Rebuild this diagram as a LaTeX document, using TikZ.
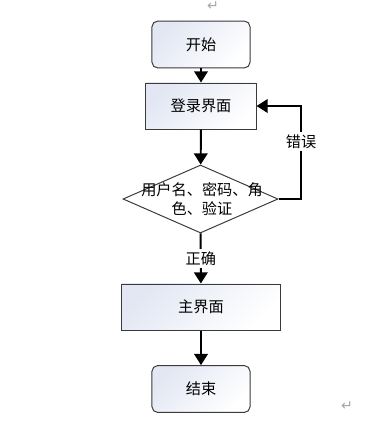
\documentclass[tikz,border=0pt]{standalone}
\usepackage{fontspec}
\setmainfont{Noto Sans CJK SC}
\newfontfamily\marksym{DejaVu Sans}
\usetikzlibrary{arrows.meta,shapes.geometric}

\definecolor{boxshade}{HTML}{E2E7F3}
\definecolor{boxline}{HTML}{3A3A3A}

\tikzset{
    shaded/.style={draw=boxline, line width=0.7pt, top color=boxshade, bottom color=white, shading angle=45},
    terminal/.style={shaded, rounded corners=4pt, minimum width=2.45cm, minimum height=1.17cm},
    process/.style={shaded, minimum width=2.75cm, minimum height=1.15cm},
    decision/.style={diamond, draw=boxline, line width=0.7pt, fill=white, minimum width=3.875cm, minimum height=1.7cm, inner sep=0pt},
    flow/.style={line width=1.4pt, -{Triangle[width=0.34cm,length=0.28cm]}},
    retmark/.style={font=\marksym, text=gray!70}
}

\begin{document}
\begin{tikzpicture}[x=0.025cm, y=-0.025cm, font=\fontsize{10.8}{14}\selectfont]

% Canvas
\useasboundingbox (0,0) rectangle (392,422);

% Flow nodes
\node[terminal] (start)  at (201,44.5) {开始};
\node[process]  (login)  at (201,106)  {登录界面};
\node[decision] (check)  at (200.5,199) {};
\node[align=center, inner sep=0pt] (checktxt) at (202,199) {用户名、密码、角\\色、验证};
\node[process, minimum width=3.95cm] (mainui) at (201,307) {主界面};
\node[terminal] (finish) at (201,389) {结束};

% Main flow
\draw[flow] (start) -- (login);
\draw[flow] (login) -- (check);
\draw[flow] (check) -- node[fill=white, inner sep=2pt] (okay) {正确} (mainui);
\draw[flow] (mainui) -- (finish);

% Back loop on failure
\coordinate (loopbot) at (301,199);
\coordinate (looptop) at (301,106);
\draw[flow] (check.east) -- (loopbot) -- node[pos=0.62, fill=white, inner sep=2pt] (wrong) {错误} (looptop) -- (login.east);

% Paragraph marks
\node[retmark] (markA) at (213,6) {↵};
\node[retmark] (markB) at (347,406) {↵};

\end{tikzpicture}
\end{document}
